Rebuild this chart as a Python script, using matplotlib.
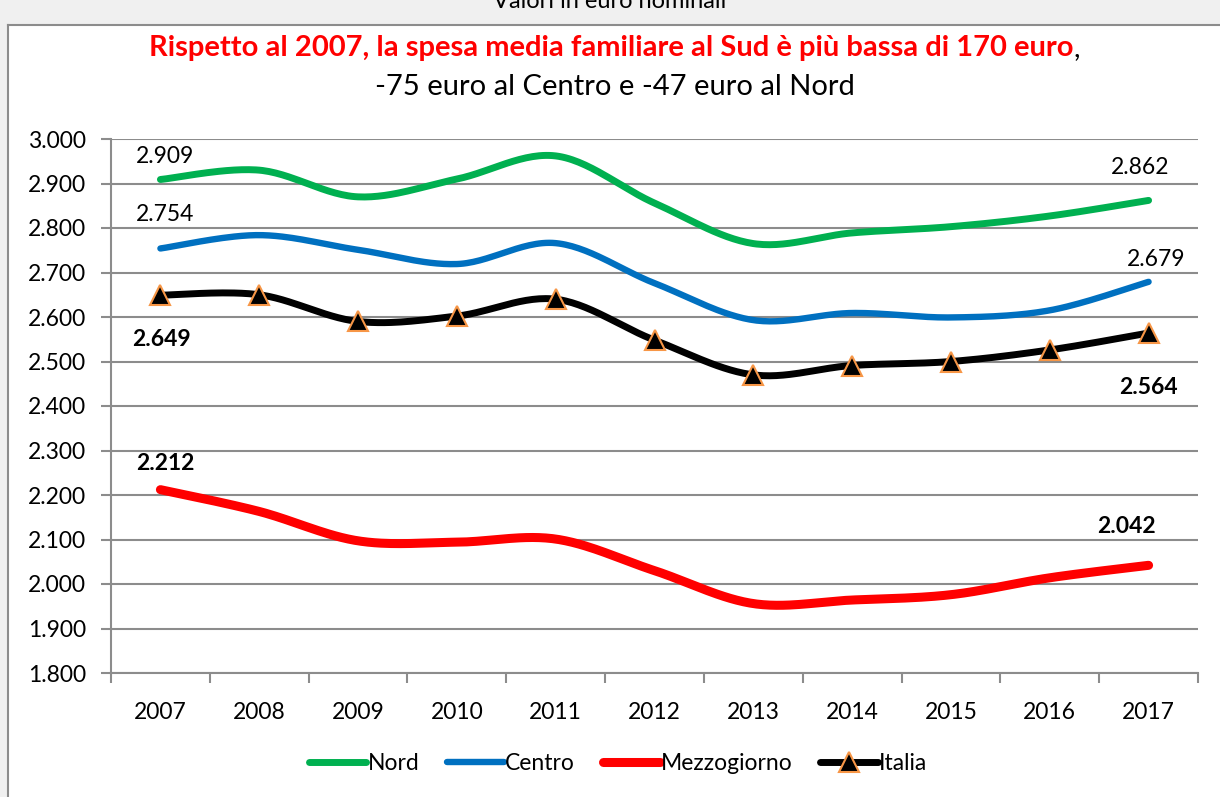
import numpy as np
import matplotlib.pyplot as plt
from matplotlib.patches import Rectangle
from matplotlib.lines import Line2D

anni = ["2007", "2008", "2009", "2010", "2011", "2012", "2013", "2014", "2015", "2016", "2017"]
nord = [2909, 2930, 2870, 2910, 2962, 2856, 2765, 2789, 2803, 2827, 2862]
centro = [2754, 2784, 2751, 2719, 2766, 2676, 2593, 2609, 2599, 2615, 2679]
mezzogiorno = [2212, 2163, 2097, 2094, 2101, 2030, 1956, 1964, 1976, 2014, 2042]
italia = [2649, 2650, 2590, 2602, 2640, 2548, 2470, 2491, 2500, 2526, 2564]
y_ticks = list(range(1800, 3001, 100))


def smooth(values, n=30):
    # curva tipo Excel: bezier con punti di controllo alla Catmull-Rom
    x = np.arange(len(values), dtype=float)
    y = np.asarray(values, dtype=float)
    px = np.concatenate([[x[0]], x, [x[-1]]])
    py = np.concatenate([[y[0]], y, [y[-1]]])
    xs, ys = [], []
    t = np.linspace(0, 1, n, endpoint=False)
    for i in range(len(x) - 1):
        p0x, p0y = px[i + 1], py[i + 1]
        p3x, p3y = px[i + 2], py[i + 2]
        c1x = p0x + (px[i + 2] - px[i]) / 6
        c1y = p0y + (py[i + 2] - py[i]) / 6
        c2x = p3x - (px[i + 3] - px[i + 1]) / 6
        c2y = p3y - (py[i + 3] - py[i + 1]) / 6
        b0 = (1 - t) ** 3
        b1 = 3 * (1 - t) ** 2 * t
        b2 = 3 * (1 - t) * t ** 2
        b3 = t ** 3
        xs.extend(b0 * p0x + b1 * c1x + b2 * c2x + b3 * p3x)
        ys.extend(b0 * p0y + b1 * c1y + b2 * c2y + b3 * p3y)
    xs.append(x[-1])
    ys.append(y[-1])
    return np.array(xs), np.array(ys)


plt.rcParams["font.family"] = ["Lato", "DejaVu Sans"]

fig = plt.figure(figsize=(12.2, 7.97), dpi=100)
W, H = 1220, 797

# cornice esterna (parte di un grafico più grande)
fig.patches.append(Rectangle((0, 1 - 25 / H), 1, 25 / H, transform=fig.transFigure,
                             facecolor="#f0f0f0", edgecolor="none", zorder=0))
fig.patches.append(Rectangle((0, 0), 8 / W, 1, transform=fig.transFigure,
                             facecolor="#f0f0f0", edgecolor="none", zorder=0))
fig.add_artist(Line2D([8 / W, 1], [1 - 25 / H, 1 - 25 / H], transform=fig.transFigure,
                      color="#8c8c8c", lw=1.5))
fig.add_artist(Line2D([8 / W, 8 / W], [0, 1 - 25 / H], transform=fig.transFigure,
                      color="#8c8c8c", lw=1.5))
fig.text(0.5, 1 - 8 / H, "Valori in euro nominali", ha="center", va="baseline",
         fontsize=17, color="black")

ax = fig.add_axes([111 / W, 1 - 673 / H, (1198 - 111) / W, (673 - 139) / H])

x = np.arange(len(anni))
n = 30
sx, sy = smooth(nord, n)
ax.plot(sx, sy, color="#00b050", lw=5, solid_capstyle="round", label="Nord", zorder=3)
sx, sy = smooth(centro, n)
ax.plot(sx, sy, color="#0070c0", lw=4.6, solid_capstyle="round", label="Centro", zorder=3)
sx, sy = smooth(mezzogiorno, n)
ax.plot(sx, sy, color="#ff0000", lw=6.5, solid_capstyle="round", label="Mezzogiorno", zorder=3)
sx, sy = smooth(italia, n)
ax.plot(sx, sy, color="black", lw=5, solid_capstyle="round", marker="^", markersize=15,
        markerfacecolor="black", markeredgecolor="#f79646", markeredgewidth=1.5,
        markevery=[i * n for i in range(len(anni))], label="Italia", zorder=4)

ax.set_xlim(-0.5, len(anni) - 0.5)
ax.set_ylim(1800, 3000)
ax.set_yticks(y_ticks)
ax.set_yticklabels([f"{v:,}".replace(",", ".") for v in y_ticks])
ax.set_xticks(x)
ax.set_xticklabels(anni)
ax.set_xticks(np.arange(len(anni) + 1) - 0.5, minor=True)
ax.tick_params(axis="x", which="major", length=0, pad=21, labelsize=16.5)
ax.tick_params(axis="x", which="minor", length=7, width=1.5, color="#8c8c8c")
ax.tick_params(axis="y", length=7, width=1.5, color="#8c8c8c", labelsize=16.5, pad=11)
ax.grid(axis="y", color="#8c8c8c", lw=1.5)
ax.set_axisbelow(True)
for s in ["top", "right"]:
    ax.spines[s].set_visible(False)
for s in ["left", "bottom"]:
    ax.spines[s].set_color("#8c8c8c")
    ax.spines[s].set_linewidth(1.5)

# etichette dei valori (primo e ultimo anno)
fmt = lambda v: f"{v:,}".replace(",", ".")
lab = dict(fontsize=16.5, ha="center", va="center_baseline", textcoords="offset pixels", zorder=5)
ax.annotate(fmt(nord[0]), (x[0], nord[0]), xytext=(5, 25), **lab)
ax.annotate(fmt(nord[-1]), (x[-1], nord[-1]), xytext=(-8, 35), **lab)
ax.annotate(fmt(centro[0]), (x[0], centro[0]), xytext=(5, 36), **lab)
ax.annotate(fmt(centro[-1]), (x[-1], centro[-1]), xytext=(8, 24), **lab)
ax.annotate(fmt(mezzogiorno[0]), (x[0], mezzogiorno[0]), xytext=(5, 28), fontweight="bold", **lab)
ax.annotate(fmt(mezzogiorno[-1]), (x[-1], mezzogiorno[-1]), xytext=(-22, 41), fontweight="bold", **lab)
ax.annotate(fmt(italia[0]), (x[0], italia[0]), xytext=(1, -42), fontweight="bold", **lab)
ax.annotate(fmt(italia[-1]), (x[-1], italia[-1]), xytext=(0, -52), fontweight="bold", **lab)

# titolo
t1 = fig.text(611 / W, 1 - 48 / H, "Rispetto al 2007, la spesa media familiare al Sud è più bassa di 170 euro",
              ha="center", va="center", fontsize=21, fontweight="bold", color="#ff0000")
fig.canvas.draw()
bb = t1.get_window_extent()
fig.text(bb.x1 / W, 1 - 48 / H, ",", ha="left", va="center", fontsize=21, color="black")
fig.text(615 / W, 1 - 87 / H, "-75 euro al Centro e -47 euro al Nord",
         ha="center", va="center", fontsize=21, color="black")

fig.legend(loc="center", bbox_to_anchor=(618 / W, 1 - 764 / H), ncol=4, frameon=False,
           fontsize=16.5, handlelength=2.5, handletextpad=0.05, columnspacing=1.2)

fig.savefig("out.png", dpi=100, facecolor="white")
